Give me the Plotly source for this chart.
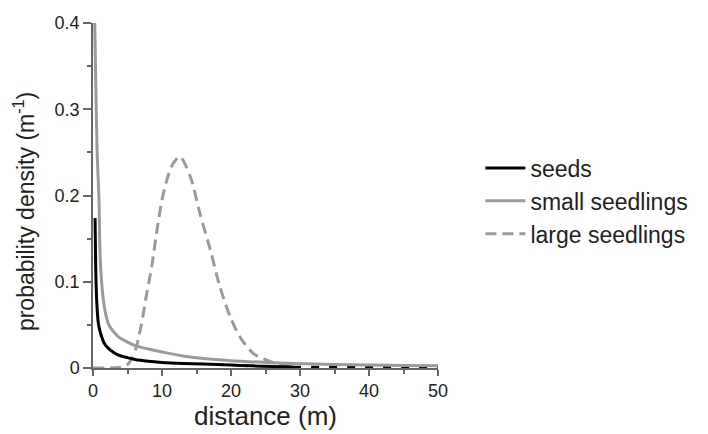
import plotly.graph_objects as go

# seeds (solid black)
seeds_x = [0.3, 0.39, 0.53, 0.77, 1.0, 1.26, 1.6, 2.2, 3.0, 3.7, 5.0, 6.1, 8.0, 10.0, 13.0, 16.0, 20.0, 23.0, 26.0, 29.0]
seeds_y = [0.174, 0.117, 0.079, 0.052, 0.043, 0.036, 0.029, 0.023, 0.018, 0.015, 0.012, 0.0098, 0.0078, 0.0065, 0.0053, 0.0045, 0.0035, 0.0025, 0.0018, 0.0012]
# seeds extrapolated (black dashed)
seeds_ext_x = [29.0, 35.0, 40.0, 45.0, 50.0]
seeds_ext_y = [0.0012, 0.0011, 0.0010, 0.0009, 0.0008]

# small seedlings (solid grey)
small_x = [0.25, 0.4, 0.6, 0.87, 1.0, 1.2, 1.5, 1.8, 2.2, 2.6, 3.0, 3.7, 5.0, 6.1, 8.0, 10.0, 13.0, 16.0, 20.0, 25.0, 29.0, 35.0, 40.0, 45.0, 50.0]
small_y = [0.4, 0.33, 0.25, 0.195, 0.137, 0.105, 0.079, 0.064, 0.052, 0.046, 0.042, 0.036, 0.030, 0.026, 0.022, 0.0186, 0.014, 0.011, 0.0085, 0.0065, 0.0052, 0.0042, 0.0035, 0.003, 0.0026]

# large seedlings (dashed grey)
large_x = [0.0, 2.0, 4.0, 5.0, 5.7, 6.3, 7.0, 7.8, 8.5, 9.2, 10.0, 10.7, 11.6, 12.6, 14.1, 15.5, 17.0, 18.4, 19.9, 21.3, 23.2, 25.2, 27.0, 29.0]
large_y = [0.0, 0.0, 0.001, 0.004, 0.012, 0.025, 0.05, 0.087, 0.117, 0.156, 0.195, 0.218, 0.237, 0.245, 0.222, 0.179, 0.137, 0.094, 0.059, 0.036, 0.017, 0.009, 0.004, 0.001]

x_ticks = [0, 10, 20, 30, 40, 50]
y_ticks = [0, 0.1, 0.2, 0.3, 0.4]
y_tick_text = ["0", "0.1", "0.2", "0.3", "0.4"]

BLACK = "#000000"
GREY = "#9a9a9a"
AX = "#666666"
TXT = "#222222"
FONT = "Liberation Sans, Arial, sans-serif"

fig = go.Figure()
fig.add_trace(go.Scatter(x=large_x, y=large_y, mode="lines", name="large seedlings",
                         line=dict(color=GREY, width=3, dash="11px,6px", shape="spline", smoothing=0.8),
                         legendrank=3))
fig.add_trace(go.Scatter(x=seeds_ext_x, y=seeds_ext_y, mode="lines", showlegend=False,
                         line=dict(color=BLACK, width=2.5, dash="8px,10px")))
fig.add_trace(go.Scatter(x=small_x, y=small_y, mode="lines", name="small seedlings",
                         line=dict(color=GREY, width=3, shape="spline", smoothing=0.8), legendrank=2))
fig.add_trace(go.Scatter(x=seeds_x, y=seeds_y, mode="lines", name="seeds",
                         line=dict(color=BLACK, width=3, shape="spline", smoothing=0.8), legendrank=1))

fig.update_layout(
    width=708, height=434,
    margin=dict(l=93, r=270, t=23, b=66, autoexpand=False),
    paper_bgcolor="white", plot_bgcolor="white",
    font=dict(family=FONT, color=TXT),
    legend=dict(x=1.123, y=0.484, xanchor="left", yanchor="middle",
                font=dict(size=23, color=TXT), tracegroupgap=0,
                itemwidth=40, bgcolor="rgba(0,0,0,0)"),
    xaxis=dict(range=[0, 50], tickvals=x_ticks, showline=True, linecolor=AX, linewidth=1.5,
               ticks="outside", ticklen=6, tickcolor=AX, tickwidth=1.5,
               minor=dict(dtick=5, ticks="outside", ticklen=4, tickcolor=AX, tickwidth=1.5),
               showgrid=False, zeroline=False, tickfont=dict(size=18, color=TXT),
               title=dict(text="distance (m)", font=dict(size=26, color=TXT), standoff=6)),
    yaxis=dict(range=[0, 0.4], tickvals=y_ticks, ticktext=y_tick_text, showline=True,
               linecolor=AX, linewidth=1.5,
               ticks="outside", ticklen=8, tickcolor=AX, tickwidth=1.5,
               minor=dict(dtick=0.05, ticks="outside", ticklen=4, tickcolor=AX, tickwidth=1.5),
               showgrid=False, zeroline=False, tickfont=dict(size=18, color=TXT),
               title=dict(text="probability density (m<sup>-1</sup>)&nbsp;&nbsp;&nbsp;&nbsp;&nbsp;",
                          font=dict(size=23, color=TXT), standoff=14)),
)

fig.write_html("out.html")
